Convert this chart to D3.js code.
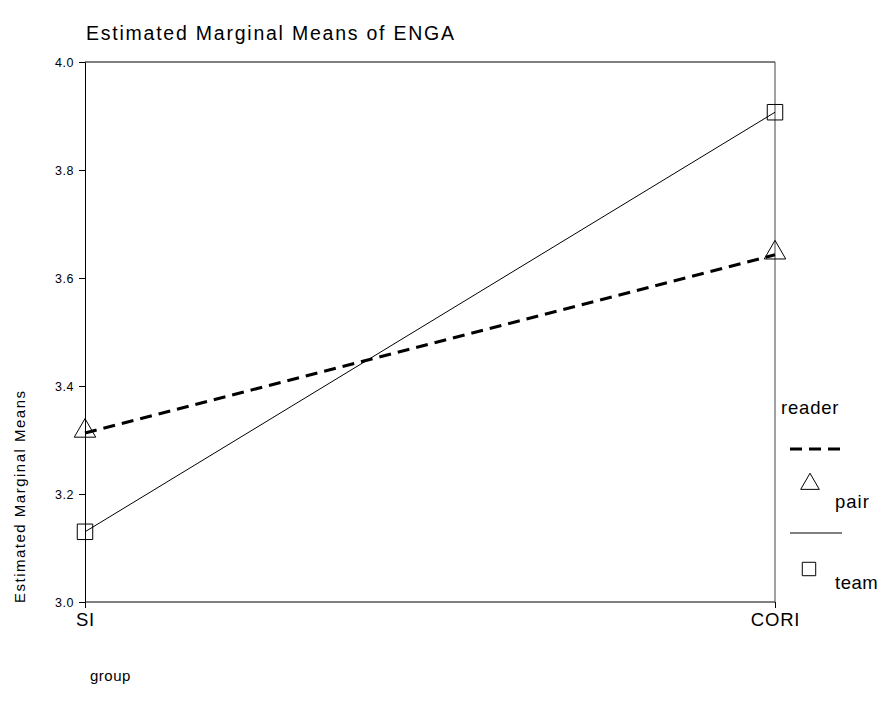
<!DOCTYPE html>
<html><head><meta charset="utf-8">
<script src="https://cdn.jsdelivr.net/npm/d3@7"></script>
<style>body{margin:0;background:#fff}svg{display:block;font-family:Arial,"Liberation Sans",sans-serif}</style>
</head><body><svg id="c" width="884" height="714"></svg>
<script>
const categories = ["SI", "CORI"];
const pairValues = [3.313, 3.643];
const teamValues = [3.130, 3.907];
const yTicks = [3.0, 3.2, 3.4, 3.6, 3.8, 4.0];
const seriesNames = ["pair", "team"];

const svg = d3.select("#c");
const FF = "Arial,'Liberation Sans',sans-serif";
const L = 85, R = 775, T = 62, B = 602;
const x = d3.scalePoint().domain(categories).range([L, R]);
const y = d3.scaleLinear().domain([3.0, 4.0]).range([B, T]);

svg.append("text").attr("x", 86).attr("y", 40).attr("font-size", 19.5)
  .attr("textLength", 368).attr("lengthAdjust", "spacing").text("Estimated Marginal Means of ENGA");

// frame
svg.append("line").attr("x1", L).attr("x2", R).attr("y1", T).attr("y2", T).attr("stroke", "#000");
svg.append("line").attr("x1", R).attr("x2", R).attr("y1", T).attr("y2", B).attr("stroke", "#444");

const ya = svg.append("g").attr("transform", `translate(${L},0)`)
  .call(d3.axisLeft(y).tickValues(yTicks).tickFormat(d3.format(".1f")).tickSize(6).tickPadding(5));
ya.select(".domain").attr("stroke", "#000");
ya.selectAll("text").attr("font-size", 12.5).attr("letter-spacing", 0.5).attr("font-family", FF);

const xa = svg.append("g").attr("transform", `translate(0,${B})`)
  .call(d3.axisBottom(x).tickSize(6).tickPadding(5).tickSizeOuter(0));
xa.select(".domain").attr("stroke", "#000").attr("d", `M${L},0H${R}`);
xa.selectAll("text").attr("font-size", 18.5).attr("letter-spacing", 0.8).attr("font-family", FF);

svg.append("text").attr("transform", "translate(25,497) rotate(-90)").attr("text-anchor", "middle")
  .attr("font-size", 15).attr("textLength", 212).attr("lengthAdjust", "spacing").text("Estimated Marginal Means");
svg.append("text").attr("x", 90).attr("y", 681).attr("font-size", 15).attr("letter-spacing", 0.5).text("group");

const line = d3.line().x((d, i) => x(categories[i])).y(d => y(d));
svg.append("path").datum(teamValues).attr("d", line).attr("fill", "none").attr("stroke", "#000").attr("stroke-width", 1);
svg.append("path").datum(pairValues).attr("d", line).attr("fill", "none").attr("stroke", "#000")
  .attr("stroke-width", 3).attr("stroke-dasharray", "12,7");

const tri = d3.symbol().type(d3.symbolTriangle).size(200);
const sq = d3.symbol().type(d3.symbolSquare).size(240);
pairValues.forEach((v, i) => {
  svg.append("path").attr("d", tri).attr("transform", `translate(${x(categories[i])},${y(v) - 2})`)
    .attr("fill", "none").attr("stroke", "#000").attr("stroke-width", 1);
});
teamValues.forEach((v, i) => {
  svg.append("path").attr("d", sq).attr("transform", `translate(${x(categories[i])},${y(v)})`)
    .attr("fill", "none").attr("stroke", "#000").attr("stroke-width", 1);
});

// legend
const lg = svg.append("g");
lg.append("text").attr("x", 781).attr("y", 414).attr("font-size", 18.5).attr("letter-spacing", 0.8).text("reader");
lg.append("line").attr("x1", 790).attr("x2", 841).attr("y1", 449).attr("y2", 449).attr("stroke", "#000")
  .attr("stroke-width", 3).attr("stroke-dasharray", "12,7");
lg.append("path").attr("d", d3.symbol().type(d3.symbolTriangle).size(150)).attr("transform", "translate(810,484)")
  .attr("fill", "none").attr("stroke", "#000");
lg.append("text").attr("x", 835).attr("y", 508).attr("font-size", 18.5).attr("letter-spacing", 1).text(seriesNames[0]);
lg.append("line").attr("x1", 790).attr("x2", 842).attr("y1", 533).attr("y2", 533).attr("stroke", "#000");
lg.append("path").attr("d", d3.symbol().type(d3.symbolSquare).size(180)).attr("transform", "translate(809,569)")
  .attr("fill", "none").attr("stroke", "#000");
lg.append("text").attr("x", 835).attr("y", 589).attr("font-size", 18.5).attr("letter-spacing", 0.5).text(seriesNames[1]);
</script></body></html>
